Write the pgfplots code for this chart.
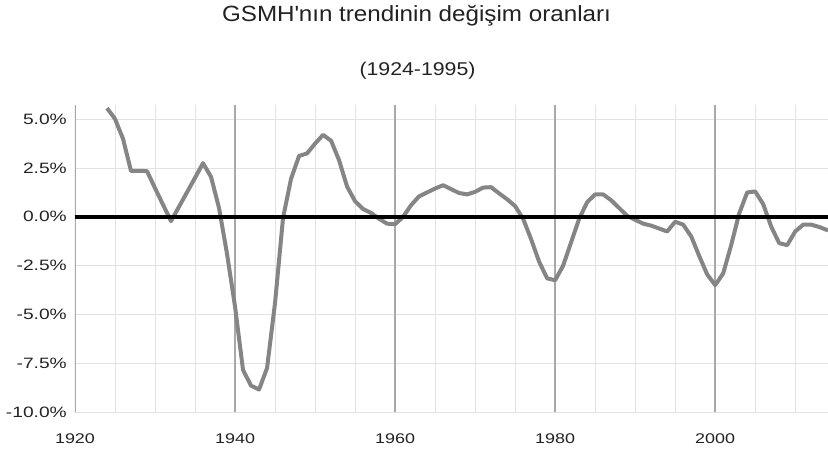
\documentclass[border=0pt]{standalone}
\usepackage{fontspec}
\setmainfont{Liberation Sans}
\newfontfamily\tickfont[FakeStretch=1.28]{Liberation Sans}
\newfontfamily\titlefont[FakeStretch=1.1]{Liberation Sans}
\newfontfamily\subfont[FakeStretch=1.15]{Liberation Sans}
\usepackage{pgfplots}
\usepackage{pgfplotstable}
\pgfplotsset{compat=1.18}
\definecolor{lineg}{HTML}{858585}
\definecolor{majg}{HTML}{A8A8A8}
\definecolor{ming}{HTML}{E2E2E2}
\definecolor{txt}{HTML}{222222}
\pgfplotstableread{
year val
1924 5.57
1925 5.02
1926 4.0
1927 2.35
1928 2.36
1929 2.34
1930 1.47
1931 0.62
1932 -0.22
1933 0.52
1934 1.26
1935 2.0
1936 2.75
1937 2.05
1938 0.45
1939 -1.9
1940 -4.6
1941 -7.85
1942 -8.65
1943 -8.85
1944 -7.75
1945 -4.4
1946 -0.05
1947 1.95
1948 3.12
1949 3.25
1950 3.75
1951 4.2
1952 3.9
1953 2.9
1954 1.55
1955 0.8
1956 0.4
1957 0.2
1958 -0.1
1959 -0.35
1960 -0.38
1961 0.0
1962 0.6
1963 1.05
1964 1.25
1965 1.45
1966 1.62
1967 1.42
1968 1.22
1969 1.15
1970 1.28
1971 1.5
1972 1.52
1973 1.2
1974 0.9
1975 0.55
1976 -0.1
1977 -1.15
1978 -2.3
1979 -3.15
1980 -3.25
1981 -2.5
1982 -1.3
1983 -0.1
1984 0.75
1985 1.15
1986 1.15
1987 0.85
1988 0.45
1989 0.05
1990 -0.15
1991 -0.35
1992 -0.45
1993 -0.6
1994 -0.75
1995 -0.25
1996 -0.4
1997 -1.0
1998 -2.0
1999 -2.95
2000 -3.5
2001 -2.9
2002 -1.45
2003 0.17
2004 1.25
2005 1.3
2006 0.65
2007 -0.5
2008 -1.35
2009 -1.45
2010 -0.75
2011 -0.4
2012 -0.4
2013 -0.52
2014 -0.68
2014.1 -0.7
}\gsmh
\begin{document}
\begin{tikzpicture}[x=1pt,y=1pt]
\path[use as bounding box] (-75,-47) rectangle (753,412);
\begin{axis}[
  at={(0,0)}, anchor=south west,
  scale only axis, width=753pt, height=307pt,
  xmin=1920, xmax=2014.1, ymin=-10, ymax=5.73,
  axis line style={draw=none},
  major tick style={draw=none}, minor tick style={draw=none},
  xtick={1920,1940,1960,1980,2000},
  xticklabels={1920,1940,1960,1980,2000},
  minor xtick={1925,1930,1935,1945,1950,1955,1965,1970,1975,1985,1990,1995,2005,2010},
  xminorgrids, minor grid style={ming, line width=1pt},
  ytick={-10,-7.5,-5,-2.5,0,2.5,5},
  yticklabels={-10.0\%,-7.5\%,-5.0\%,-2.5\%,0.0\%,2.5\%,5.0\%},
  ymajorgrids, major grid style={ming, line width=1pt},
  xticklabel style={font=\tickfont\fontsize{14}{14}\selectfont, text=txt, anchor=north, inner sep=0pt, yshift=-22pt},
  yticklabel style={font=\tickfont\fontsize{15}{15}\selectfont, text=txt, anchor=east, inner sep=0pt, xshift=-8pt},
]
\draw[majg, line width=2pt] (axis cs:1920,-10) -- (axis cs:1920,5.73);
\draw[majg, line width=2pt] (axis cs:1940,-10) -- (axis cs:1940,5.73);
\draw[majg, line width=2pt] (axis cs:1960,-10) -- (axis cs:1960,5.73);
\draw[majg, line width=2pt] (axis cs:1980,-10) -- (axis cs:1980,5.73);
\draw[majg, line width=2pt] (axis cs:2000,-10) -- (axis cs:2000,5.73);
\addplot[lineg, line width=4pt, line join=round, no markers] table[x=year,y=val]{\gsmh};
\draw[black, line width=4.5pt] (axis cs:1920,0) -- (axis cs:2014.1,0);
\end{axis}
\node[anchor=base, text=txt, font=\titlefont\fontsize{22}{22}\selectfont] at (341.5,390.3) {GSMH\textquotesingle nın trendinin değişim oranları};
\node[anchor=base, text=txt, font=\subfont\fontsize{18.5}{18.5}\selectfont] at (342.5,337) {(1924-1995)};
\end{tikzpicture}
\end{document}
